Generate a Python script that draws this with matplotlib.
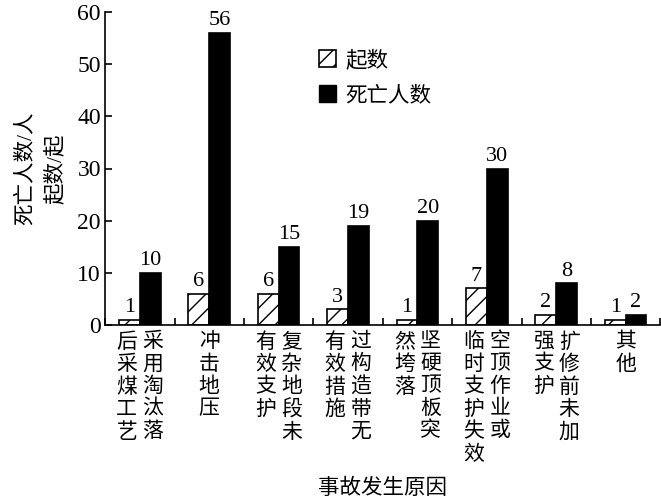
import matplotlib.pyplot as plt
import matplotlib.transforms as mtransforms
from matplotlib.patches import Patch
import numpy as np

plt.rcParams['font.family'] = ['Liberation Serif', 'Noto Sans CJK SC']
plt.rcParams['hatch.linewidth'] = 1.0

# each cause is written vertically, columns read right to left
label_columns = [
    ["采用淘汰落", "后采煤工艺"],
    ["冲击地压"],
    ["复杂地段未", "有效支护"],
    ["过构造带无", "有效措施"],
    ["坚硬顶板突", "然垮落"],
    ["空顶作业或", "临时支护失效"],
    ["扩修前未加", "强支护"],
    ["其他"],
]
counts = [1, 6, 6, 3, 1, 7, 2, 1]
deaths = [10, 56, 15, 19, 20, 30, 8, 2]


def main():
    fig = plt.figure(figsize=(6.61, 5.0), dpi=100)
    ax = fig.add_axes([0.159, 0.35, 0.840, 0.626])

    x = np.arange(len(counts)) + 0.5
    w = 0.3
    ax.bar(x - w / 2, counts, w, facecolor='white', edgecolor='black',
           hatch='//', linewidth=1.2)
    ax.bar(x + w / 2, deaths, w, color='black', edgecolor='black', linewidth=1.2)

    for xi, c, d in zip(x, counts, deaths):
        ax.text(xi - w / 2, c + 0.5, str(c), ha='center', va='bottom', fontsize=16)
        ax.text(xi + w / 2, d + 0.5, str(d), ha='center', va='bottom', fontsize=16)

    ax.set_xlim(0, len(counts))
    ax.set_ylim(0, 60)
    ax.set_yticks(range(0, 61, 10))
    ax.set_xticks(range(0, len(counts) + 1))
    ax.set_xticklabels([])
    ax.tick_params(axis='both', direction='in', length=5, width=1.2, labelsize=17)
    ax.tick_params(axis='y', pad=3)
    for s in ['top', 'right']:
        ax.spines[s].set_visible(False)
    for s in ['left', 'bottom']:
        ax.spines[s].set_linewidth(1.2)

    # vertical category labels under the axis
    trans = mtransforms.blended_transform_factory(ax.transData, ax.transAxes)
    for xi, cols in zip(x, label_columns):
        n = len(cols)
        for j, col in enumerate(cols):
            dx = ((n - 1) / 2 - j) * 26
            off = mtransforms.offset_copy(trans, fig=fig, x=dx, y=-8, units='dots')
            ax.text(xi, 0, "\n".join(col), transform=off, ha='center', va='top',
                    fontsize=15, linespacing=1.22)

    ax.text(0.5, -0.525, "事故发生原因", transform=ax.transAxes, ha='center',
            va='center', fontsize=15.5)
    ax.set_ylabel("死亡人数/人\n起数/起", fontsize=15.5, linespacing=1.6, labelpad=8)

    handles = [Patch(facecolor='white', edgecolor='black', hatch='//', linewidth=1.2),
               Patch(facecolor='black', edgecolor='black')]
    ax.legend(handles, ["起数", "死亡人数"], loc='upper left',
              bbox_to_anchor=(0.37, 0.905), frameon=False, fontsize=15.5,
              handlelength=0.8, handleheight=0.8, handletextpad=0.4,
              labelspacing=0.65, borderaxespad=0)

    fig.savefig("out.png", dpi=100)


if __name__ == "__main__":
    main()
